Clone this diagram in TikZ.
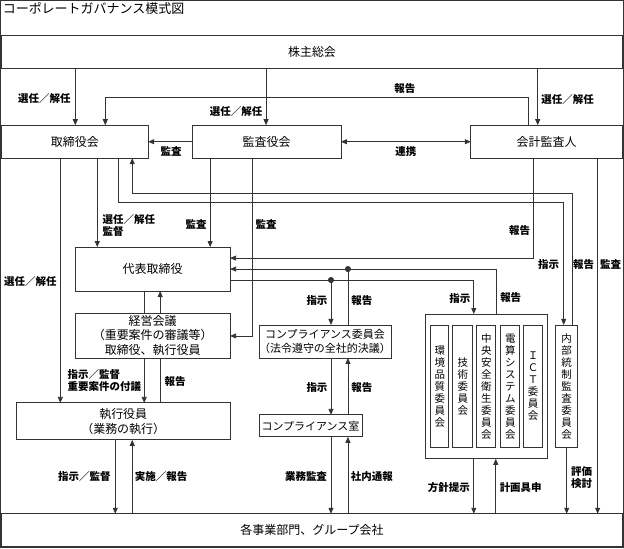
\documentclass[tikz,border=0pt]{standalone}
\usepackage{fontspec}
\setmainfont{Noto Sans CJK JP}
\usetikzlibrary{arrows.meta}
\begin{document}
\begin{tikzpicture}[x=1pt,y=-1pt,
  every path/.style={line width=0.8pt,draw=black!80},
  arr/.style={-{Triangle[length=6pt,width=5pt]}},
  dbl/.style={{Triangle[length=6pt,width=5pt]}-{Triangle[length=6pt,width=5pt]}}
]

\tikzstyle{box}=[draw,rectangle,inner sep=0pt,outer sep=0pt,align=center,anchor=north west,
  font=\fontsize{12}{14.5}\selectfont]
\tikzstyle{small box}=[box,font=\fontsize{11}{13.5}\selectfont]
\tikzstyle{tate}=[box,font=\fontsize{10.5}{12}\selectfont]
\tikzstyle{lbl}=[inner sep=0pt,align=left,font=\bfseries\fontsize{10.5}{12}\selectfont]

\useasboundingbox (0,0) rectangle (624,548);

\node [anchor=west,inner sep=0pt,font=\fontsize{13}{15}\selectfont] (title) at (2,8) {コーポレートガバナンス模式図};

\node [box,minimum width=622pt,minimum height=33pt] (kabu) at (1,35) {株主総会};
\node [box,minimum width=147pt,minimum height=33pt] (tori) at (1,125) {取締役会};
\node [box,minimum width=149pt,minimum height=33pt] (kansa) at (192,125) {監査役会};
\node [box,minimum width=152pt,minimum height=33pt] (kaikei) at (471,125) {会計監査人};
\node [box,minimum width=155pt,minimum height=44pt] (daihyo) at (75,247) {代表取締役};
\node [box,minimum width=155pt,minimum height=45pt] (keiei) at (75,313)
  {経営会議\\（重要案件の審議等）\\取締役、執行役員};
\node [box,minimum width=214pt,minimum height=37pt] (shikko) at (16,403) {執行役員\\（業務の執行）};
\node [small box,minimum width=103pt,minimum height=33pt] (compi) at (259,325)
  {コンプライアンス委員会\\（法令遵守の全社的決議）};
\node [small box,minimum width=103pt,minimum height=22pt] (compr) at (259,415) {コンプライアンス室};
\node [box,minimum width=122pt,minimum height=145pt] (iinkai) at (426,314) {};
\node [tate,minimum width=18pt,minimum height=123pt] (kankyo) at (431,325) {環\\境\\品\\質\\委\\員\\会};
\node [tate,minimum width=20pt,minimum height=123pt] (gijutsu) at (453,325) {技\\術\\委\\員\\会};
\node [tate,minimum width=19pt,minimum height=123pt] (anzen) at (477,325) {中\\央\\安\\全\\衛\\生\\委\\員\\会};
\node [tate,minimum width=19pt,minimum height=123pt] (densan) at (501,325) {電\\算\\シ\\ス\\テ\\ム\\委\\員\\会};
\node [tate,minimum width=19pt,minimum height=123pt] (ict) at (524,325) {Ｉ\\Ｃ\\Ｔ\\委\\員\\会};
\node [tate,minimum width=22pt,minimum height=123pt] (naibu) at (556,325) {内\\部\\統\\制\\監\\査\\委\\員\\会};
\node [box,minimum width=622pt,minimum height=33pt] (jigyo) at (1,514) {各事業部門、グループ会社};

\coordinate (dotA) at (331,280);
\coordinate (dotB) at (348,269);

\draw [arr] (kabu.south -| 75,0) -- (tori.north -| 75,0);
\draw [arr] (kabu.south -| 266,0) -- (kansa.north -| 266,0);
\draw [arr] (kabu.south -| 538,0) -- (kaikei.north -| 538,0);
\draw [arr] (kaikei.north -| 529,0) -- ++(0,-28) -| (tori.north -| 105,0);
\draw [arr] (kansa.west) -- (tori.east);
\draw [dbl] (kansa.east) -- (kaikei.west);

\draw [arr] (tori.south -| 60,0) -- (shikko.north -| 60,0);
\draw [arr] (tori.south -| 97,0) -- (daihyo.north -| 97,0);
\draw [arr] (tori.south -| 118,0) -- ++(0,44) -| (naibu.north -| 564,0);
\draw [arr] (naibu.north -| 573,0) -- ++(0,-132) -| (tori.south -| 132,0);
\draw [arr] (kansa.south -| 210,0) -- (daihyo.north -| 210,0);
\draw [arr] (kansa.south -| 252,0) |- (keiei.east |- 0,336);
\draw [arr] (kaikei.south -| 534,0) |- (daihyo.east |- 0,258);
\draw [arr] (kaikei.south -| 598,0) -- (jigyo.north -| 598,0);

\draw [arr] (iinkai.north -| 497,0) |- (daihyo.east |- 0,269);
\draw [arr] (daihyo.east |- 0,280) -| (iinkai.north -| 474,0);
\draw [arr] (dotA) -- (compi.north -| dotA);
\draw (compi.north -| dotB) -- (dotB);
\fill [black!80] (dotA) circle (2.6pt) (dotB) circle (2.6pt);

\draw (daihyo.south -| 144,0) -- (keiei.north -| 144,0);
\draw [arr] (keiei.north -| 160,0) -- (daihyo.south -| 160,0);
\draw [arr] (keiei.south -| 144,0) -- (shikko.north -| 144,0);
\draw (shikko.north -| 160,0) -- (keiei.south -| 160,0);
\draw [arr] (shikko.south -| 115,0) -- (jigyo.north -| 115,0);
\draw [arr] (jigyo.north -| 132,0) -- (shikko.south -| 132,0);

\draw [arr] (compi.south -| dotA) -- (compr.north -| dotA);
\draw [arr] (compr.north -| dotB) -- (compi.south -| dotB);
\draw [arr] (compr.south -| dotA) -- (jigyo.north -| dotA);
\draw [arr] (jigyo.north -| dotB) -- (compr.south -| dotB);
\draw [arr] (iinkai.south -| 474,0) -- (jigyo.north -| 474,0);
\draw [arr] (jigyo.north -| 496,0) -- (iinkai.south -| 496,0);
\draw [arr] (naibu.south -| 567,0) -- (jigyo.north -| 567,0);

\node [lbl] (l1) at (44,98) {選任／解任};
\node [lbl] (l2) at (236,111) {選任／解任};
\node [lbl] (l3) at (568,99) {選任／解任};
\node [lbl] (l4) at (405,88) {報告};
\node [lbl] (l5) at (171,151) {監査};
\node [lbl] (l6) at (406,151) {連携};
\node [lbl] (l7) at (30,281) {選任／解任};
\node [lbl,anchor=west] (l8) at (102,225) {選任／解任\\監督};
\node [lbl] (l9) at (196,224) {監査};
\node [lbl] (l10) at (266,224) {監査};
\node [lbl] (l11) at (520,230) {報告};
\node [lbl] (l12) at (549,264) {指示};
\node [lbl] (l13) at (584,264) {報告};
\node [lbl] (l14) at (611,264) {監査};
\node [lbl] (l15) at (317,301) {指示};
\node [lbl] (l16) at (362,301) {報告};
\node [lbl] (l17) at (460,298) {指示};
\node [lbl] (l18) at (511,298) {報告};
\node [lbl,anchor=west] (l19) at (67,381) {指示／監督\\重要案件の付議};
\node [lbl] (l20) at (175,382) {報告};
\node [lbl] (l21) at (317,388) {指示};
\node [lbl] (l22) at (362,388) {報告};
\node [lbl] (l23) at (84,477) {指示／監督};
\node [lbl] (l24) at (161,477) {実施／報告};
\node [lbl] (l25) at (306,477) {業務監査};
\node [lbl] (l26) at (372,477) {社内通報};
\node [lbl] (l27) at (449,488) {方針提示};
\node [lbl] (l28) at (521,488) {計画具申};
\node [lbl] (l29) at (582,478) {評価\\検討};
\end{tikzpicture}
\end{document}
